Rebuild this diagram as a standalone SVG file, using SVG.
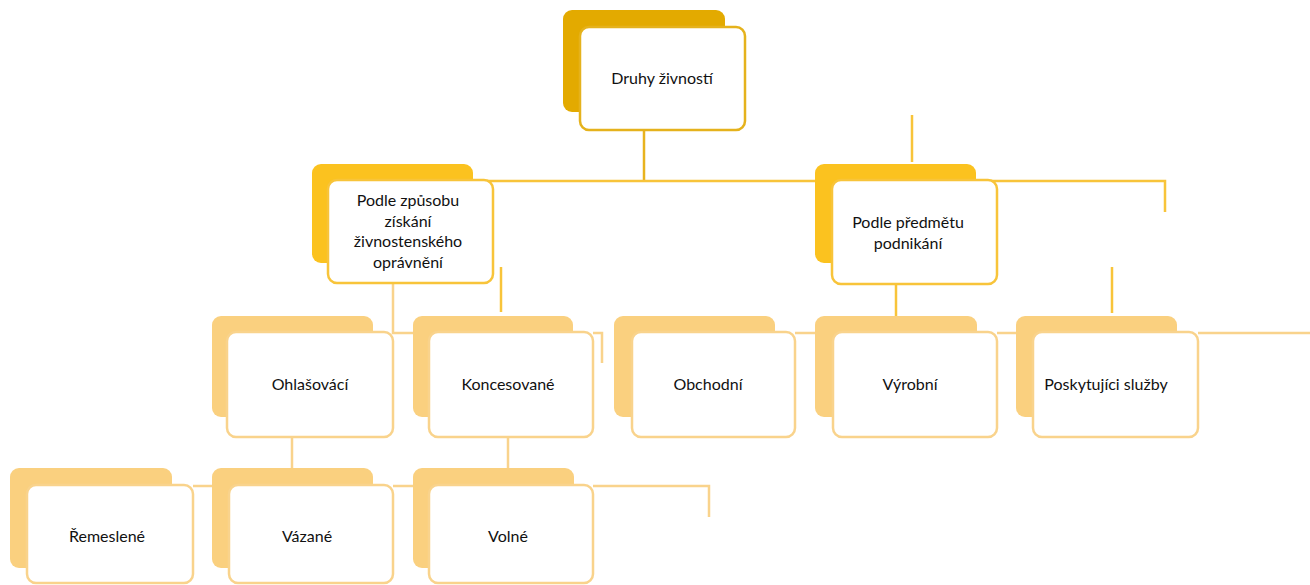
<svg xmlns="http://www.w3.org/2000/svg" width="1310" height="585" viewBox="0 0 1310 585">
<style>
text{font-family:Lato,"Liberation Sans","Noto Sans",sans-serif;font-size:16px;fill:#111;text-anchor:middle}
.l0{stroke:#E8B31E;stroke-width:2.5;fill:none}
.l1{stroke:#F8C43A;stroke-width:2.5;fill:none}
.l2{stroke:#F9D38C;stroke-width:2.5;fill:none}
.b0{fill:#E3AA00}
.f0{fill:#fff;stroke:#E5B21C;stroke-width:2.5}
.b1{fill:#FBC21F}
.f1{fill:#fff;stroke:#F8C43A;stroke-width:2.5}
.b2{fill:#FAD07F}
.f2{fill:#fff;stroke:#F9D38C;stroke-width:2.5}
</style>
<rect width="1310" height="585" fill="#fff"/>
<g id="connectors">
<path class="l0" d="M644 130V181"/>
<path class="l1" d="M480 181H1165V212"/>
<path class="l1" d="M912 115V162"/>
<path class="l1" d="M501 267V312"/>
<path class="l1" d="M1112 267V313"/>
<path class="l1" d="M896 284V316"/>
<path class="l2" d="M393 283V333H413"/>
<path class="l2" d="M593 333H602V363"/>
<path class="l2" d="M795 333H815"/>
<path class="l2" d="M997 333H1016"/>
<path class="l2" d="M1198 333H1310"/>
<path class="l2" d="M292 437V468"/>
<path class="l2" d="M508 437V468"/>
<path class="l2" d="M193 486H212"/>
<path class="l2" d="M393 486H413"/>
<path class="l2" d="M593 486H709V517"/>
</g>
<g id="node-druhy">
<rect class="b0" x="563" y="10" width="162" height="102" rx="9"/>
<rect class="f0" x="580" y="27" width="165" height="103" rx="9"/>
<text x="662" y="84">Druhy živností</text>
</g>
<g id="node-zpusob">
<rect class="b1" x="312" y="164" width="161" height="99" rx="9"/>
<rect class="f1" x="328" y="180" width="165" height="103" rx="9"/>
<text x="408" y="206">Podle způsobu</text>
<text x="408" y="227">získání</text>
<text x="408" y="247">živnostenského</text>
<text x="408" y="268">oprávnění</text>
</g>
<g id="node-predmet">
<rect class="b1" x="815" y="164" width="161" height="99" rx="9"/>
<rect class="f1" x="832" y="180" width="165" height="104" rx="9"/>
<text x="908" y="228">Podle předmětu</text>
<text x="908" y="249">podnikání</text>
</g>
<g id="node-ohlasovaci">
<rect class="b2" x="212" y="316" width="161" height="101" rx="9"/>
<rect class="f2" x="227" y="332" width="166" height="105" rx="9"/>
<text x="310" y="390">Ohlašovácí</text>
</g>
<g id="node-koncesovane">
<rect class="b2" x="413" y="316" width="160" height="101" rx="9"/>
<rect class="f2" x="429" y="332" width="164" height="105" rx="9"/>
<text x="508" y="390">Koncesované</text>
</g>
<g id="node-obchodni">
<rect class="b2" x="614" y="316" width="161" height="101" rx="9"/>
<rect class="f2" x="632" y="332" width="163" height="105" rx="9"/>
<text x="708" y="390">Obchodní</text>
</g>
<g id="node-vyrobni">
<rect class="b2" x="815" y="316" width="162" height="101" rx="9"/>
<rect class="f2" x="833" y="332" width="164" height="105" rx="9"/>
<text x="910" y="390">Výrobní</text>
</g>
<g id="node-sluzby">
<rect class="b2" x="1016" y="316" width="161" height="101" rx="9"/>
<rect class="f2" x="1033" y="332" width="165" height="105" rx="9"/>
<text x="1106" y="390">Poskytujíci služby</text>
</g>
<g id="node-remeslene">
<rect class="b2" x="10" y="468" width="162" height="100" rx="9"/>
<rect class="f2" x="27" y="485" width="166" height="98" rx="9"/>
<text x="107" y="542">Řemeslené</text>
</g>
<g id="node-vazane">
<rect class="b2" x="212" y="468" width="161" height="100" rx="9"/>
<rect class="f2" x="229" y="485" width="164" height="98" rx="9"/>
<text x="307" y="542">Vázané</text>
</g>
<g id="node-volne">
<rect class="b2" x="413" y="468" width="161" height="100" rx="9"/>
<rect class="f2" x="429" y="485" width="164" height="98" rx="9"/>
<text x="508" y="542">Volné</text>
</g>
</svg>
